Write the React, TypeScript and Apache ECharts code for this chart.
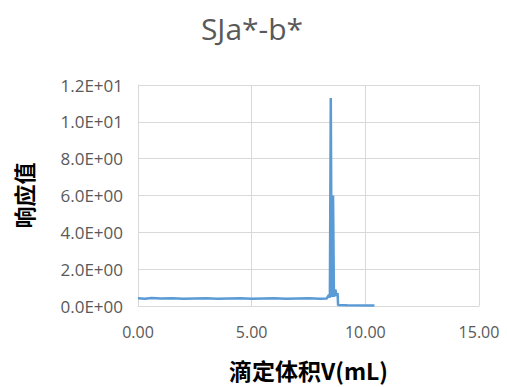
import React, { useEffect, useRef } from "react";
import * as echarts from "echarts";

const titleText = "SJa*-b*";
const xName = "滴定体积V(mL)";
const yName = "响应值";
const volume = [0, 0.3, 0.6, 1.0, 1.5, 2.0, 2.5, 3.0, 3.5, 4.0, 4.5, 5.0, 5.5, 6.0, 6.5, 7.0, 7.5, 8.0, 8.3, 8.4, 8.44, 8.48, 8.52, 8.56, 8.58, 8.62, 8.68, 8.74, 8.78, 8.8, 9.2, 10.4];
const response = [0.42, 0.4, 0.43, 0.41, 0.42, 0.4, 0.41, 0.42, 0.4, 0.41, 0.42, 0.4, 0.41, 0.42, 0.4, 0.41, 0.42, 0.4, 0.41, 0.6, 0.45, 11.3, 0.5, 0.6, 6.0, 0.5, 0.9, 0.55, 0.7, 0.05, 0.04, 0.03];

function fmtSci(v: number): string {
  if (v === 0) return "0.0E+00";
  const e = Math.floor(Math.log10(Math.abs(v)) + 1e-9);
  const m = v / Math.pow(10, e);
  const es = (e < 0 ? "-" : "+") + String(Math.abs(e)).padStart(2, "0");
  return m.toFixed(1) + "E" + es;
}

export default function App() {
  const ref = useRef<HTMLDivElement>(null);
  useEffect(() => {
    if (!ref.current) return;
    const chart = echarts.init(ref.current, null, { renderer: "svg" });
    const data = volume.map((x, i) => [x, response[i]]);
    chart.setOption({
      animation: false,
      backgroundColor: "#ffffff",
      title: {
        text: titleText,
        left: 247,
        top: 8,
        textAlign: "center",
        textStyle: { fontFamily: "Open Sans", fontSize: 30, fontWeight: "normal", color: "#595959" },
      },
      grid: { left: 138, right: 28, top: 85, bottom: 81 },
      xAxis: {
        type: "value",
        min: 0,
        max: 15,
        interval: 5,
        name: xName,
        nameLocation: "middle",
        nameGap: 52,
        nameTextStyle: { fontFamily: "Noto Sans CJK SC", fontSize: 23, fontWeight: "bold", color: "#000" },
        axisLine: { show: true, lineStyle: { color: "#d9d9d9" } },
        axisTick: { show: false },
        axisLabel: { fontFamily: "Open Sans", fontSize: 16, color: "#595959", margin: 18, formatter: (v: number) => v.toFixed(2) },
        splitLine: { show: true, lineStyle: { color: "#d9d9d9" } },
      },
      yAxis: {
        type: "value",
        min: 0,
        max: 12,
        interval: 2,
        name: yName,
        nameLocation: "middle",
        nameGap: 104,
        nameTextStyle: { fontFamily: "Noto Sans CJK SC", fontSize: 22, fontWeight: "bold", color: "#000" },
        axisLine: { show: true, lineStyle: { color: "#d9d9d9" } },
        axisTick: { show: false },
        axisLabel: { fontFamily: "Open Sans", fontSize: 17, color: "#595959", margin: 15, formatter: (v: number) => fmtSci(v) },
        splitLine: { show: true, lineStyle: { color: "#d9d9d9" } },
      },
      series: [
        {
          type: "line",
          data,
          showSymbol: false,
          symbol: "none",
          lineStyle: { color: "#5B9BD5", width: 2.5 },
        },
      ],
    });
    return () => chart.dispose();
  }, []);
  return <div ref={ref} style={{ width: 507, height: 387, marginLeft: -8, marginTop: -8 }} />;
}
